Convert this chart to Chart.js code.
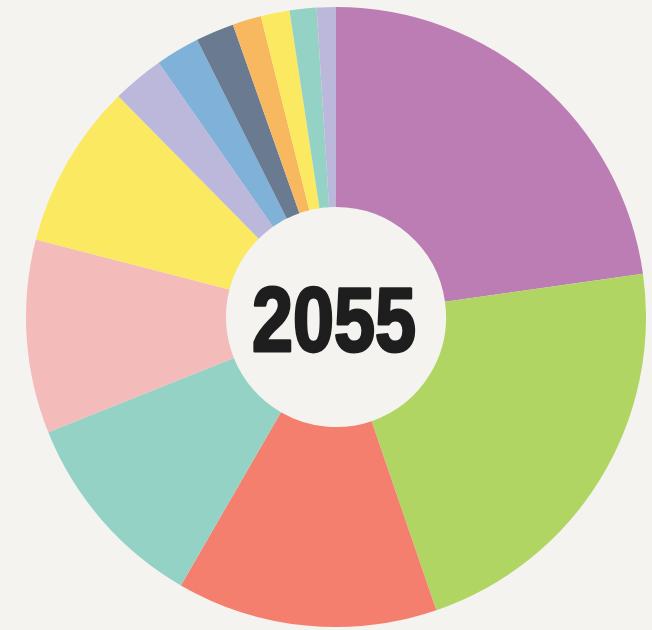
<!DOCTYPE html>
<html lang="en">
<head>
  <meta charset="UTF-8" />
  <title>2055</title>
  <script src="https://cdn.jsdelivr.net/npm/chart.js"></script>
  <style>
    html, body { margin: 0; padding: 0; background: #f4f3ef; }
    #chart { display: block; }
  </style>
</head>
<body>
  <canvas id="chart" width="652" height="630"></canvas>

  <script>
    // slices, clockwise from 12 o'clock (share of the whole, %)
    const categories = ['A', 'B', 'C', 'D', 'E', 'F', 'G', 'H', 'I', 'J', 'K', 'L', 'M'];
    const shares = [22.8, 22.0, 13.6, 10.6, 10.1, 8.6, 2.7, 2.3, 2.0, 1.5, 1.5, 1.4, 1.0];
    const sliceColors = ['#bc7db4', '#b0d563', '#f57f6f', '#93d2c5', '#f4bbbb', '#fbe962',
                         '#bcb8dc', '#80b1d9', '#697a91', '#f8b85f', '#fbe962', '#93d2c5', '#bcb8dc'];
    const centerLabel = '2055';

    const centerText = {
      id: 'centerText',
      afterDraw(chart) {
        const { ctx } = chart;
        const arc = chart.getDatasetMeta(0).data[0];
        const cx = arc.x, cy = arc.y;
        ctx.save();
        ctx.font = 'bold 91px "Liberation Sans Narrow", "Liberation Sans", sans-serif';
        ctx.fillStyle = '#1e1e1e';
        ctx.strokeStyle = '#1e1e1e';
        ctx.lineWidth = 3;
        ctx.lineJoin = 'round';
        ctx.textAlign = 'center';
        ctx.textBaseline = 'alphabetic';
        const w = ctx.measureText(centerLabel).width;
        const sx = 164 / w;
        ctx.translate(cx - 2, cy + 34);
        ctx.scale(sx, 1);
        ctx.fillText(centerLabel, 0, 0);
        ctx.strokeText(centerLabel, 0, 0);
        ctx.restore();
      }
    };

    new Chart(document.getElementById('chart'), {
      type: 'doughnut',
      data: {
        labels: categories,
        datasets: [{
          data: shares,
          backgroundColor: sliceColors,
          borderWidth: 0,
          hoverOffset: 0
        }]
      },
      options: {
        responsive: false,
        animation: false,
        cutout: '35.5%',
        layout: { padding: { left: 26, right: 6, top: 7, bottom: 3 } },
        plugins: {
          legend: { display: false },
          tooltip: { enabled: false }
        }
      },
      plugins: [centerText]
    });
  </script>
</body>
</html>
